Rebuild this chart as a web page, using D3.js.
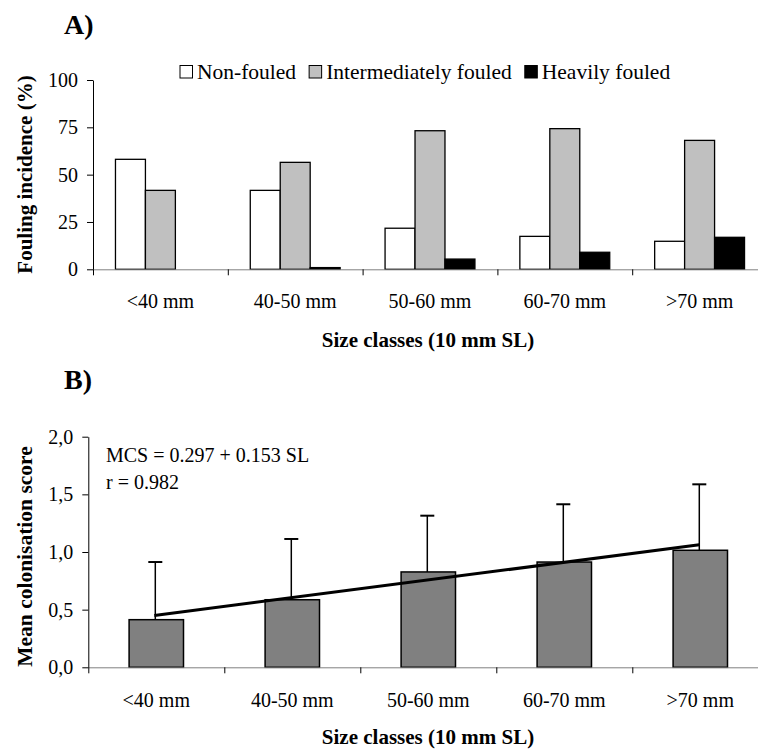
<!DOCTYPE html>
<html>
<head>
<meta charset="utf-8">
<script src="https://cdn.jsdelivr.net/npm/d3@7"></script>
<style>
  body { margin: 0; background: #fff; }
  text { font-family: "Liberation Serif", "Times New Roman", serif; fill: #000; }
</style>
</head>
<body>
<div id="chart"></div>
<script>
// size classes shared by both panels
var sizeClasses = ["<40 mm", "40-50 mm", "50-60 mm", "60-70 mm", ">70 mm"];

// panel A: fouling incidence (%)
var foulingGroups = ["Non-fouled", "Intermediately fouled", "Heavily fouled"];
var nonFouled = [58.1, 41.7, 21.7, 17.4, 14.8];
var intermediate = [41.7, 56.5, 73.2, 74.3, 68.1];
var heavily = [0, 0.9, 5.4, 9.0, 16.9];
var foulingTicks = [0, 25, 50, 75, 100];

// panel B: mean colonisation score with SD
var meanScore = [0.413, 0.586, 0.827, 0.913, 1.015];
var scoreSD = [0.50, 0.527, 0.488, 0.501, 0.572];
var scoreTicks = [0, 0.5, 1.0, 1.5, 2.0];
// fitted regression line (MCS = 0.297 + 0.153 SL) at first and last class
var fitEnds = [{cls: "<40 mm", v: 0.450}, {cls: ">70 mm", v: 1.062}];

var W = 758, H = 749;
var serif = "'Liberation Serif', 'Times New Roman', serif";
var svg = d3.select("#chart").append("svg")
    .attr("width", W)
    .attr("height", H);

var fillColors = ["#ffffff", "#c0c0c0", "#000000"];
var seriesA = [nonFouled, intermediate, heavily];

// ---------- Panel A ----------
var ax0 = 93, axW = 674;
var xBandA = d3.scaleBand().domain(sizeClasses).range([ax0, ax0 + axW]);
var xLinA = d3.scaleLinear().domain([0, 5]).range([ax0, ax0 + axW]);
var xSub = d3.scaleBand().domain([0, 1, 2])
    .range([0, xBandA.bandwidth() * 2 / 3]);
var yA = d3.scaleLinear().domain([0, 100]).range([269.3, 80]);

svg.append("text")
    .attr("x", 64).attr("y", 34)
    .style("font-size", "28px").style("font-weight", "bold")
    .text("A)");

// bars
var gA = svg.append("g");
seriesA.forEach(function(vals, s) {
  gA.selectAll(".barA" + s)
    .data(vals)
    .enter()
    .append("rect")
      .attr("x", function(d, i) { return xBandA(sizeClasses[i]) + xBandA.bandwidth() / 6 + xSub(s); })
      .attr("y", function(d) { return yA(d); })
      .attr("width", xSub.bandwidth())
      .attr("height", function(d) { return yA(0) - yA(d); })
      .style("fill", fillColors[s])
      .attr("stroke", "#000")
      .attr("stroke-width", 1.3);
});

// y axis
var yAxA = svg.append("g")
    .attr("transform", "translate(" + ax0 + ",0)")
    .attr("font-family", serif)
    .call(d3.axisLeft(yA).tickValues(foulingTicks).tickSize(6).tickPadding(9).tickSizeOuter(0));
yAxA.attr("font-family", serif);
yAxA.select(".domain").attr("stroke", "#000");
yAxA.selectAll("text").style("font-size", "20px").style("font-family", serif);

// x axis
var xAxA = svg.append("g")
    .attr("transform", "translate(0," + yA(0) + ")")
    .call(d3.axisBottom(xLinA).tickValues([0, 1, 2, 3, 4, 5]).tickFormat("").tickSize(6).tickSizeOuter(0));
xAxA.select(".domain").attr("stroke", "#808080");
xAxA.selectAll(".tick line").attr("stroke", "#000");

svg.append("g").selectAll("text")
    .data(sizeClasses)
    .enter()
    .append("text")
      .attr("x", function(d) { return xBandA(d) + xBandA.bandwidth() / 2; })
      .attr("y", 308)
      .attr("text-anchor", "middle")
      .style("font-size", "20px")
      .text(function(d) { return d; });

svg.append("text")
    .attr("x", 428).attr("y", 347)
    .attr("text-anchor", "middle")
    .style("font-size", "21px").style("font-weight", "bold")
    .text("Size classes (10 mm SL)");

svg.append("text")
    .attr("transform", "translate(32," + 174.5 + ") rotate(-90)")
    .attr("text-anchor", "middle")
    .style("font-size", "21px").style("font-weight", "bold")
    .text("Fouling incidence (%)");

// legend
var legend = svg.append("g");
var lx = 180;
foulingGroups.forEach(function(name, i) {
  legend.append("rect")
    .attr("x", lx).attr("y", 65.5)
    .attr("width", 12.5).attr("height", 12.5)
    .style("fill", fillColors[i])
    .attr("stroke", "#000").attr("stroke-width", 1);
  var t = legend.append("text")
    .attr("x", lx + 17).attr("y", 78.5)
    .style("font-size", "21.5px")
    .text(name);
  lx += 17 + t.node().getComputedTextLength() + 13;
});

// ---------- Panel B ----------
var bx0 = 88.3, bxW = 680;
var xBandB = d3.scaleBand().domain(sizeClasses).range([bx0, bx0 + bxW]);
var xLinB = d3.scaleLinear().domain([0, 5]).range([bx0, bx0 + bxW]);
var yB = d3.scaleLinear().domain([0, 2]).range([667.3, 436.7]);
var barWB = xBandB.bandwidth() * 0.4;
function cx(c) { return xBandB(c) + xBandB.bandwidth() / 2; }

svg.append("text")
    .attr("x", 64).attr("y", 389)
    .style("font-size", "28px").style("font-weight", "bold")
    .text("B)");

var gB = svg.append("g");
gB.selectAll(".barB")
  .data(meanScore)
  .enter()
  .append("rect")
    .attr("x", function(d, i) { return cx(sizeClasses[i]) - barWB / 2; })
    .attr("y", function(d) { return yB(d); })
    .attr("width", barWB)
    .attr("height", function(d) { return yB(0) - yB(d); })
    .style("fill", "#808080")
    .attr("stroke", "#000")
    .attr("stroke-width", 1.5);

// error bars (upper only)
gB.selectAll(".errV")
  .data(meanScore)
  .enter()
  .append("line")
    .attr("x1", function(d, i) { return cx(sizeClasses[i]) - 1; })
    .attr("x2", function(d, i) { return cx(sizeClasses[i]) - 1; })
    .attr("y1", function(d) { return yB(d); })
    .attr("y2", function(d, i) { return yB(d + scoreSD[i]); })
    .attr("stroke", "#000").attr("stroke-width", 1.5);
gB.selectAll(".errCap")
  .data(meanScore)
  .enter()
  .append("line")
    .attr("x1", function(d, i) { return cx(sizeClasses[i]) - 8; })
    .attr("x2", function(d, i) { return cx(sizeClasses[i]) + 6; })
    .attr("y1", function(d, i) { return yB(d + scoreSD[i]); })
    .attr("y2", function(d, i) { return yB(d + scoreSD[i]); })
    .attr("stroke", "#000").attr("stroke-width", 2);

// regression line
gB.append("line")
    .attr("x1", cx(fitEnds[0].cls) - 2).attr("y1", yB(fitEnds[0].v))
    .attr("x2", cx(fitEnds[1].cls) - 1).attr("y2", yB(fitEnds[1].v))
    .attr("stroke", "#000").attr("stroke-width", 3);

var yAxB = svg.append("g")
    .attr("transform", "translate(" + bx0 + ",0)")
    .call(d3.axisLeft(yB).tickValues(scoreTicks).tickSize(6).tickPadding(9).tickSizeOuter(0)
      .tickFormat(function(d) { return d3.format(".1f")(d).replace(".", ","); }));
yAxB.attr("font-family", serif);
yAxB.select(".domain").attr("stroke", "#000");
yAxB.selectAll("text").style("font-size", "20px").style("font-family", serif);

var xAxB = svg.append("g")
    .attr("transform", "translate(0," + yB(0) + ")")
    .call(d3.axisBottom(xLinB).tickValues([0, 1, 2, 3, 4, 5]).tickFormat("").tickSize(6).tickSizeOuter(0));
xAxB.select(".domain").attr("stroke", "#808080");
xAxB.selectAll(".tick line").attr("stroke", "#000");

svg.append("g").selectAll("text")
    .data(sizeClasses)
    .enter()
    .append("text")
      .attr("x", function(d) { return cx(d); })
      .attr("y", 707)
      .attr("text-anchor", "middle")
      .style("font-size", "20px")
      .text(function(d) { return d; });

svg.append("text")
    .attr("x", 428).attr("y", 744)
    .attr("text-anchor", "middle")
    .style("font-size", "21px").style("font-weight", "bold")
    .text("Size classes (10 mm SL)");

svg.append("text")
    .attr("transform", "translate(32," + 556.5 + ") rotate(-90)")
    .attr("text-anchor", "middle")
    .style("font-size", "21.5px").style("font-weight", "bold")
    .text("Mean colonisation score");

svg.append("text")
    .attr("x", 106).attr("y", 462)
    .style("font-size", "20px")
    .text("MCS = 0.297 + 0.153 SL");
svg.append("text")
    .attr("x", 106).attr("y", 489)
    .style("font-size", "20px")
    .text("r = 0.982");
</script>
</body>
</html>
